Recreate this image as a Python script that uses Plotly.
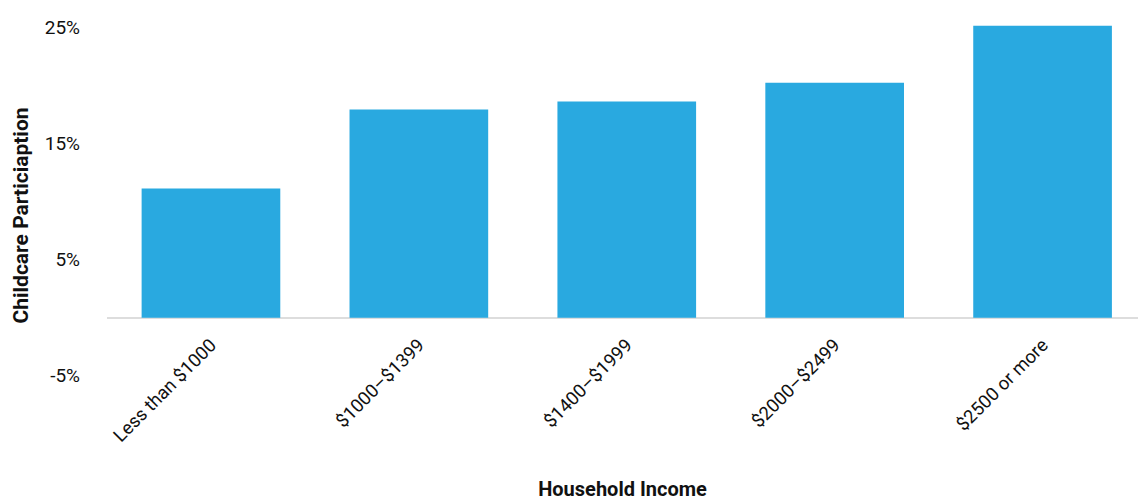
import plotly.graph_objects as go

# Childcare participation rate by monthly household income bracket
income_brackets = ["Less than $1000", "$1000–$1399", "$1400–$1999", "$2000–$2499", "$2500 or more"]
participation_pct = [11.1, 17.9, 18.6, 20.2, 25.1]

tick_values = [-5, 5, 15, 25]
tick_labels = ["-5%", "5%", "15%", "25%"]

FONT = "Roboto, Liberation Sans, sans-serif"

Y_MIN, Y_MAX = -8.03, 25.6
# category axis drawn along the zero line
zero_pos = (0 - Y_MIN) / (Y_MAX - Y_MIN)

fig = go.Figure(
    go.Bar(
        x=list(range(len(income_brackets))),
        y=participation_pct,
        marker=dict(color="#29A9E0", line=dict(width=0)),
        width=0.667,
        hoverinfo="skip",
    )
)

fig.update_layout(
    width=1138,
    height=501,
    margin=dict(l=107, r=0, t=20, b=90),
    plot_bgcolor="white",
    paper_bgcolor="white",
    showlegend=False,
    font=dict(family=FONT, size=19, color="#111"),
)

fig.update_xaxes(
    tickmode="array",
    tickvals=list(range(len(income_brackets))),
    ticktext=income_brackets,
    tickangle=-45,
    range=[-0.5, 4.459],
    anchor="free",
    position=zero_pos,
    showgrid=False,
    showline=False,
    ticks="",
    automargin=False,
    ticklabelstandoff=12,
    tickfont=dict(family=FONT, size=18.5, color="#111"),
    title=dict(
        text="<b>Household Income</b>",
        font=dict(family=FONT, size=20, color="#111"),
        standoff=42,
    ),
)

fig.update_yaxes(
    range=[Y_MIN, Y_MAX],
    tickmode="array",
    tickvals=tick_values,
    ticktext=tick_labels,
    showgrid=False,
    zeroline=True,
    zerolinecolor="#DDDDDD",
    zerolinewidth=2,
    showline=False,
    ticks="",
    automargin=False,
    ticklabelstandoff=26,
    tickfont=dict(family=FONT, size=19, color="#111"),
    title=dict(
        text="<b>Childcare Particiaption</b>",
        font=dict(family=FONT, size=21, color="#111"),
        standoff=10,
    ),
)

fig.write_html("out.html")
